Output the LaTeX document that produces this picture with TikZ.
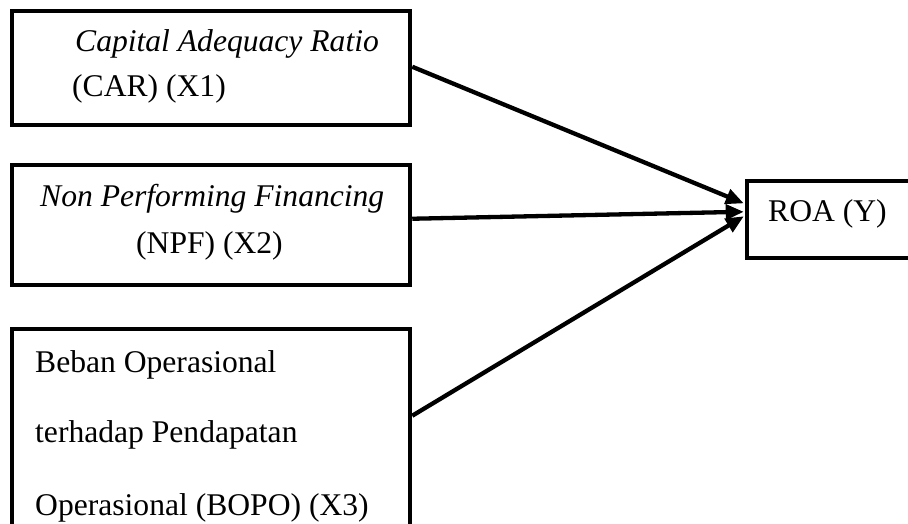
\documentclass[tikz,border=0pt]{standalone}
\usepackage{fontspec}
\setmainfont{Liberation Serif}
\usetikzlibrary{arrows.meta,calc}
\begin{document}
\begin{tikzpicture}[x=1pt,y=-1pt,
  box/.style={draw=black,line width=4.5pt,rectangle,inner sep=0pt},
  lbl/.style={anchor=base west,inner sep=0pt,font=\fontsize{31.6}{36}\selectfont},
  arr/.style={line width=4.3pt,-{Triangle[length=18pt,width=15pt]},shorten >=1pt}]
\useasboundingbox (0,0) rectangle (908,524);
\clip (0,0) rectangle (908,524);
\node[box,minimum width=398pt,minimum height=114pt] (b1) at (211,68) {};
\node[box,minimum width=398pt,minimum height=120pt] (b2) at (211,225) {};
\node[box,minimum width=398pt,minimum height=240pt] (b3) at (211,449) {};
\node[box,minimum width=210pt,minimum height=77pt] (y) at (852,219.5) {};
\node[lbl] (t1a) at (75,52) {\itshape Capital Adequacy Ratio};
\node[lbl] (t1b) at (72,97) {(CAR) (X1)};
\node[lbl] (t2a) at (40,207) {\itshape Non Performing Financing};
\node[lbl] (t2b) at (136,253) {(NPF) (X2)};
\node[lbl] (t3a) at (35,372) {Beban Operasional};
\node[lbl] (t3b) at (35,442) {terhadap Pendapatan};
\node[lbl] (t3c) at (35,515) {Operasional (BOPO) (X3)};
\node[lbl] (ty) at (768,222) {ROA (Y)};
\coordinate (s1) at ($(b1.north east)+(0,58)$);
\coordinate (s2) at ($(b2.north east)+(0,56)$);
\coordinate (s3) at ($(b3.north east)+(0,89)$);
\coordinate (e1) at ($(y.north west)+(0,25)$);
\coordinate (e2) at ($(y.north west)+(0,33)$);
\coordinate (e3) at ($(y.north west)+(0,37)$);
\draw[arr] (s1) -- (e1);
\draw[arr] (s2) -- (e2);
\draw[arr] (s3) -- (e3);
\end{tikzpicture}
\end{document}
